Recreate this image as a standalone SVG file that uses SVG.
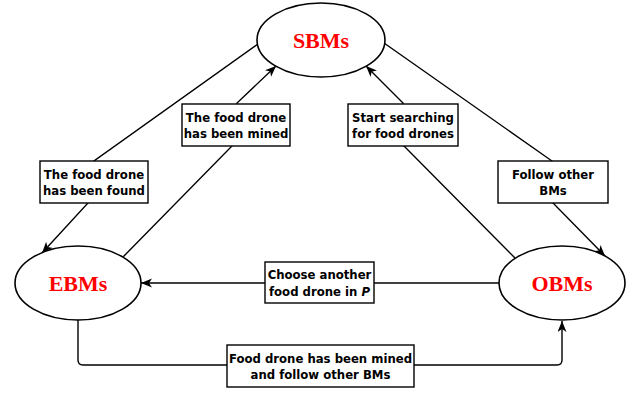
<svg xmlns="http://www.w3.org/2000/svg" width="638" height="395" viewBox="0 0 638 395">
<style>
.node{fill:#fff;stroke:#000;stroke-width:1.6}
.nt{font-family:"Liberation Serif","Times New Roman",serif;font-weight:bold;font-size:22px;fill:#ff0000;text-anchor:middle}
.edge{fill:none;stroke:#000;stroke-width:1.4;marker-end:url(#arr)}
.lb{fill:#fff;stroke:#000;stroke-width:1.4}
.lt{font-family:"DejaVu Sans",Verdana,sans-serif;font-weight:bold;font-size:11.7px;fill:#000;text-anchor:middle}
</style>
<defs>
<marker id="arr" markerUnits="userSpaceOnUse" markerWidth="12" markerHeight="10" refX="11" refY="4.5" orient="auto">
<path d="M0,0 L11,4.5 L0,9 L3,4.5 Z" fill="#000"/>
</marker>
</defs>
<rect width="638" height="395" fill="#fff"/>
<g id="connectors">
<path class="edge" d="M258,44 L94,161 L88,203 L42,253"/>
<path class="edge" d="M123,257 L232,146 L237,103 L276,66"/>
<path class="edge" d="M515,258 L403,145 L403,103 L366,66"/>
<path class="edge" d="M384,43 L552,161 L553,203 L605,256"/>
<path class="edge" d="M499,283 L141,283"/>
<path class="edge" d="M78,320 V360 Q78,365 83,365 H557 Q562,365 562,360 V321"/>
</g>
<g id="edge-labels">
<g id="label-found"><rect class="lb" x="40" y="161" width="108" height="42"/><text class="lt" x="94" y="178.5">The food drone</text><text class="lt" x="94" y="195">has been found</text></g>
<g id="label-mined"><rect class="lb" x="182" y="104" width="108" height="42"/><text class="lt" x="236" y="121.5">The food drone</text><text class="lt" x="236" y="138">has been mined</text></g>
<g id="label-start"><rect class="lb" x="348" y="104" width="110" height="42"/><text class="lt" x="403" y="121.5">Start searching</text><text class="lt" x="403" y="138">for food drones</text></g>
<g id="label-follow"><rect class="lb" x="498" y="161" width="110" height="42"/><text class="lt" x="553" y="178.5">Follow other</text><text class="lt" x="553" y="195">BMs</text></g>
<g id="label-choose"><rect class="lb" x="265" y="262" width="109" height="41"/><text class="lt" x="319.5" y="279">Choose another</text><text class="lt" x="319.5" y="295.5">food drone in <tspan font-style="italic">P</tspan></text></g>
<g id="label-bottom"><rect class="lb" x="227" y="345" width="187" height="42"/><text class="lt" x="320.5" y="362.5">Food drone has been mined</text><text class="lt" x="320.5" y="379">and follow other BMs</text></g>
</g>
<g id="SBMs"><ellipse class="node" cx="321" cy="40" rx="64" ry="37"/><text class="nt" x="321" y="47.5">SBMs</text></g>
<g id="EBMs"><ellipse class="node" cx="78" cy="283" rx="63" ry="37"/><text class="nt" x="78" y="290.5">EBMs</text></g>
<g id="OBMs"><ellipse class="node" cx="562" cy="283" rx="63" ry="37"/><text class="nt" x="562" y="290.5">OBMs</text></g>
</svg>
